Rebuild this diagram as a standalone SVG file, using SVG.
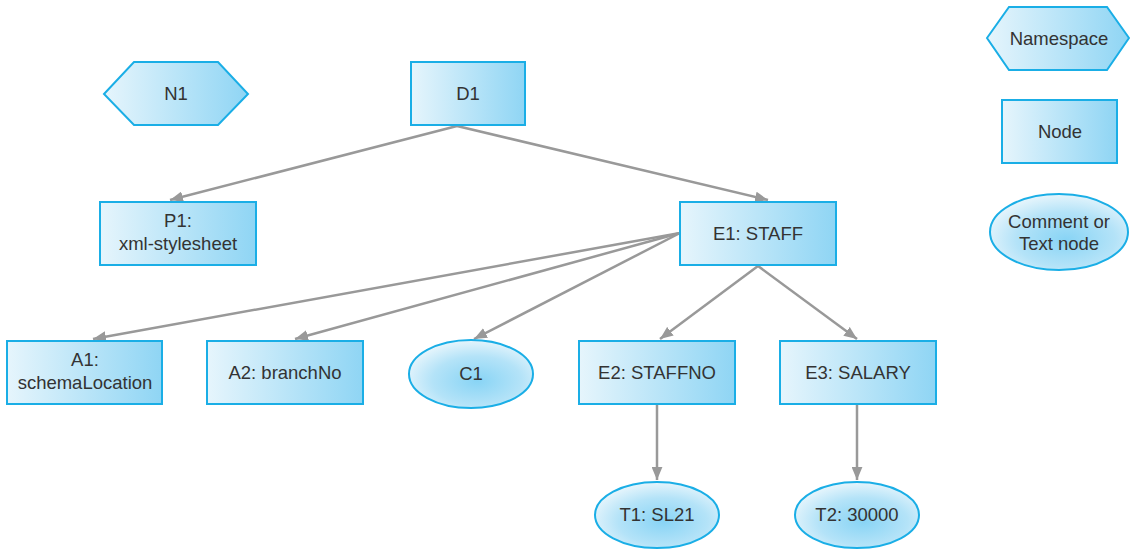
<svg xmlns="http://www.w3.org/2000/svg" width="1130" height="549" viewBox="0 0 1130 549">
<defs>
<linearGradient id="lg" x1="0" y1="0" x2="1" y2="0">
<stop offset="0" stop-color="#e6f5fc"/>
<stop offset="1" stop-color="#8fd5f4"/>
</linearGradient>
<radialGradient id="rg" cx="0.55" cy="0.6" r="0.6">
<stop offset="0" stop-color="#88d4f5"/>
<stop offset="0.6" stop-color="#b4e3f8"/>
<stop offset="1" stop-color="#e6f5fc"/>
</radialGradient>
<marker id="ah" viewBox="0 0 12 10" refX="12" refY="5" markerWidth="13" markerHeight="11" orient="auto" markerUnits="userSpaceOnUse">
<path d="M0,0 L12,5 L0,10 z" fill="#999"/>
</marker>
<style>
.box{fill:url(#lg);stroke:#1aaee6;stroke-width:2}
.ell{fill:url(#rg);stroke:#1aaee6;stroke-width:2}
.t{font-family:"Liberation Sans",Arial,sans-serif;font-size:18.5px;fill:#333;text-anchor:middle}
.c{stroke:#999;stroke-width:2.5;fill:none;marker-end:url(#ah)}
</style>
</defs>
<g id="connectors">
<line class="c" x1="457" y1="126" x2="170" y2="200"/>
<line class="c" x1="457" y1="126" x2="768" y2="200"/>
<line class="c" x1="680" y1="233" x2="93" y2="339"/>
<line class="c" x1="680" y1="233" x2="295" y2="339"/>
<line class="c" x1="680" y1="233" x2="474" y2="339"/>
<line class="c" x1="758" y1="266" x2="660" y2="339"/>
<line class="c" x1="758" y1="266" x2="857" y2="339"/>
<line class="c" x1="657" y1="405" x2="657" y2="480"/>
<line class="c" x1="857" y1="405" x2="857" y2="480"/>
</g>
<g id="N1"><polygon class="box" points="104,94 134,62 218,62 248,94 218,125 134,125"/><text class="t" x="176" y="100">N1</text></g>
<g id="D1"><rect class="box" x="411" y="62" width="114" height="63"/><text class="t" x="468" y="100">D1</text></g>
<g id="P1"><rect class="box" x="100" y="202" width="156" height="63"/><text class="t" x="178" y="227">P1:</text><text class="t" x="178" y="250">xml-stylesheet</text></g>
<g id="E1"><rect class="box" x="680" y="202" width="156" height="63"/><text class="t" x="758" y="240">E1: STAFF</text></g>
<g id="A1"><rect class="box" x="7" y="341" width="155" height="63"/><text class="t" x="85" y="366">A1:</text><text class="t" x="85" y="389">schemaLocation</text></g>
<g id="A2"><rect class="box" x="207" y="341" width="156" height="63"/><text class="t" x="285" y="379">A2: branchNo</text></g>
<g id="C1"><ellipse class="ell" cx="471" cy="374" rx="62" ry="34"/><text class="t" x="471" y="380">C1</text></g>
<g id="E2"><rect class="box" x="579" y="341" width="156" height="63"/><text class="t" x="657" y="379">E2: STAFFNO</text></g>
<g id="E3"><rect class="box" x="780" y="341" width="156" height="63"/><text class="t" x="858" y="379">E3: SALARY</text></g>
<g id="T1"><ellipse class="ell" cx="657" cy="515" rx="62" ry="33"/><text class="t" x="657" y="521">T1: SL21</text></g>
<g id="T2"><ellipse class="ell" cx="857" cy="515" rx="62" ry="33"/><text class="t" x="857" y="521">T2: 30000</text></g>
<g id="legend-namespace"><polygon class="box" points="987,38 1009,7 1107,7 1129,38 1107,70 1009,70"/><text class="t" x="1059" y="45">Namespace</text></g>
<g id="legend-node"><rect class="box" x="1002" y="100" width="115" height="63"/><text class="t" x="1060" y="138">Node</text></g>
<g id="legend-comment"><ellipse class="ell" cx="1059" cy="232" rx="69" ry="38"/><text class="t" x="1059" y="228">Comment or</text><text class="t" x="1059" y="250">Text node</text></g>
</svg>
